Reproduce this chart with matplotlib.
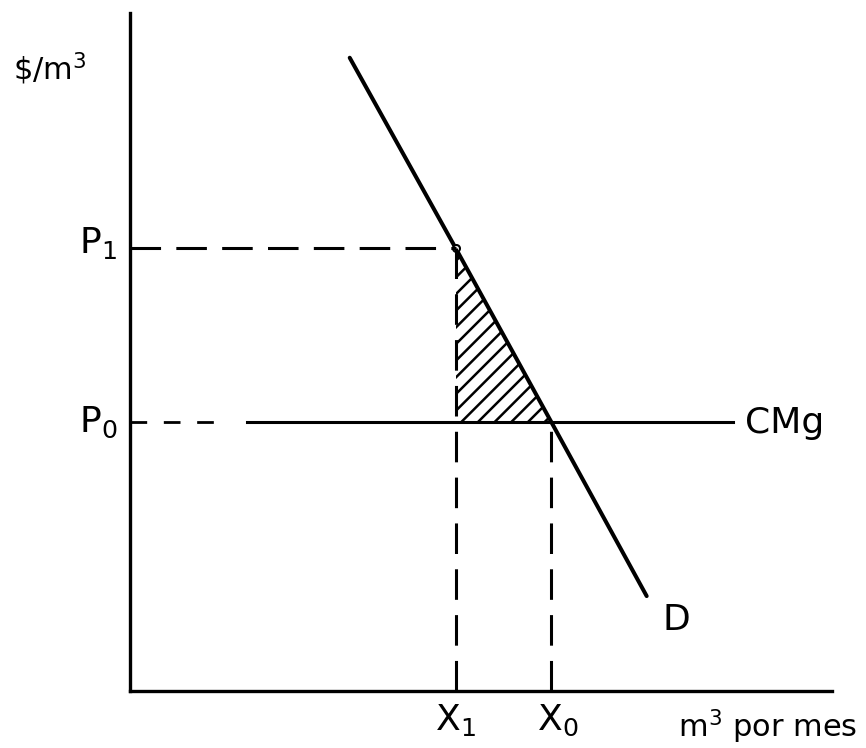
import matplotlib
matplotlib.use("Agg")
import matplotlib.pyplot as plt

# Datos del diagrama (unidades arbitrarias, 0-100 en cada eje)
p_niveles = {"P1": 65.3, "P0": 39.7}
x_niveles = {"X1": 46.4, "X0": 60.0}
demanda_q = [31.3, 46.4, 60.0, 73.6]
demanda_p = [93.4, 65.3, 39.7, 14.0]
cmg_tramo_punteado = [0, 13.5]
cmg_tramo_solido = [16.7, 85.9]

P1, P0 = p_niveles["P1"], p_niveles["P0"]
X1, X0 = x_niveles["X1"], x_niveles["X0"]

plt.rcParams["font.family"] = ["DejaVu Sans"]
plt.rcParams["hatch.linewidth"] = 1.8
plt.rcParams["hatch.color"] = "black"

fig = plt.figure(figsize=(8.66, 7.48), dpi=100)
ax = fig.add_axes([130 / 866, 57 / 748, 702 / 866, 678 / 748])
ax.set_xlim(0, 100)
ax.set_ylim(0, 100)
for s in ["top", "right"]:
    ax.spines[s].set_visible(False)
for s in ["left", "bottom"]:
    ax.spines[s].set_linewidth(2.4)
ax.set_xticks([])
ax.set_yticks([])

# Curva de demanda
ax.plot(demanda_q, demanda_p, color="black", lw=2.9, solid_capstyle="round", clip_on=False)
ax.plot([X1], [P1], "o", ms=5, mfc="white", mec="black", mew=1.5)

# Costo marginal
ax.plot(cmg_tramo_punteado, [P0, P0], color="black", lw=2.0, dashes=(6, 6))
ax.plot(cmg_tramo_solido, [P0, P0], color="black", lw=2.2)

# Líneas punteadas
ax.plot([0, X1], [P1, P1], color="black", lw=2.2, dashes=(10, 5))
ax.plot([X1, X1], [0, P1], color="black", lw=2.2, dashes=(10, 5))
ax.plot([X0, X0], [0, P0], color="black", lw=2.2, dashes=(10, 5))

# Área achurada (pérdida)
ax.fill([X1, X1, X0], [P1, P0, P0], facecolor="none", edgecolor="black",
        hatch="//", lw=0)

# Textos
fs = 26
ax.text(-1.8, P1 - 0.7, r"P$_1$", fontsize=fs, ha="right", va="baseline", clip_on=False)
ax.text(-1.8, P0 - 1.5, r"P$_0$", fontsize=fs, ha="right", va="baseline", clip_on=False)
ax.text(X1, -5.8, r"X$_1$", fontsize=fs, ha="center", va="baseline", clip_on=False)
ax.text(X0 + 1, -5.8, r"X$_0$", fontsize=fs, ha="center", va="baseline", clip_on=False)
ax.text(87.6, P0 - 1.6, "CMg", fontsize=fs, ha="left", va="baseline")
ax.text(75.8, 9.0, "D", fontsize=fs, ha="left", va="baseline")
ax.text(78.1, -6.9, r"m$^3$ por mes", fontsize=22, ha="left", va="baseline", clip_on=False)
ax.text(-16.7, 90.1, r"\$/m$^3$", fontsize=22, ha="left", va="baseline", clip_on=False)

fig.savefig("out.png", dpi=100)
